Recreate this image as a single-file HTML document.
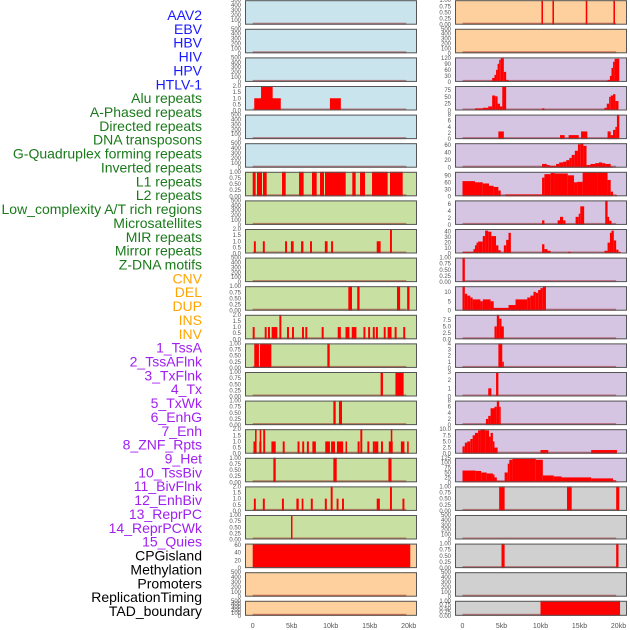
<!DOCTYPE html>
<html><head><meta charset="utf-8"><style>
body{margin:0;background:#fff;width:630px;height:630px;overflow:hidden}
svg{display:block;font-family:"Liberation Sans",sans-serif}
</style></head><body>
<svg id="c" width="630" height="630"></svg>
<script>
const trackNames=["AAV2","EBV","HBV","HIV","HPV","HTLV-1","Alu repeats","A-Phased repeats","Directed repeats","DNA transposons","G-Quadruplex forming repeats","Inverted repeats","L1 repeats","L2 repeats","Low_complexity A/T rich regions","Microsatellites","MIR repeats","Mirror repeats","Z-DNA motifs","CNV","DEL","DUP","INS","INV","1_TssA","2_TssAFlnk","3_TxFlnk","4_Tx","5_TxWk","6_EnhG","7_Enh","8_ZNF_Rpts","9_Het","10_TssBiv","11_BivFlnk","12_EnhBiv","13_ReprPC","14_ReprPCWk","15_Quies","CPGisland","Methylation","Promoters","ReplicationTiming","TAD_boundary"];
const trackColors=["#1a1aff","#1a1aff","#1a1aff","#1a1aff","#1a1aff","#1a1aff","#1a7a1a","#1a7a1a","#1a7a1a","#1a7a1a","#1a7a1a","#1a7a1a","#1a7a1a","#1a7a1a","#1a7a1a","#1a7a1a","#1a7a1a","#1a7a1a","#1a7a1a","#ffa500","#ffa500","#ffa500","#ffa500","#ffa500","#a020f0","#a020f0","#a020f0","#a020f0","#a020f0","#a020f0","#a020f0","#a020f0","#a020f0","#a020f0","#a020f0","#a020f0","#a020f0","#a020f0","#a020f0","#000","#000","#000","#000","#000"];
const xTicks=[0,5,10,15,20];
const xTickLabels=["0","5kb","10kb","15kb","20kb"];
const T500=[0,100,200,300,400,500],T1=[0,0.25,0.5,0.75,1],T2=[0,0.5,1,1.5,2];
const L4=[[0.2,3.6,1],[1.07,2.56,2],[9.9,11.3,1]];
const L7=[[0,0.38,1],[0.55,1.19,1],[1.32,1.79,1],[3.76,4.23,1],[5.94,6.53,1],[7.6,8.2,1],[8.63,9.14,1],[9.27,11.92,1],[12.77,13.2,1],[13.76,14.4,1],[15.3,17.3,1],[17.6,19.23,1]];
const L9=[[0.15,0.4,1],[1.3,1.55,1],[4.15,4.4,1],[4.9,5.25,1],[6.2,6.5,1],[7.35,7.6,1],[9.25,9.6,1],[10.05,10.3,1],[15.9,16.4,1],[17.6,17.85,2]];
const L11=[[12.26,12.73,1],[13.4,13.7,1],[18.5,18.9,1],[19.8,20.1,1]];
const L12=[[0,0.25,1],[1.54,1.79,1],[1.96,2.21,1],[2.43,3.16,1],[3.42,3.67,2],[4.4,4.65,1],[5.04,5.29,1],[6.32,6.57,1],[6.75,7.0,1],[8.84,9.1,1],[10.9,11.3,1],[11.9,12.4,1],[12.7,13.3,1],[14.2,14.45,1],[14.8,15.05,1],[15.4,15.65,1],[15.8,16.05,1],[16.8,17.05,1],[17.3,17.8,1],[18.2,18.45,1],[19.3,19.55,1]];
const L13=[[0.2,0.8,1],[0.93,2.39,1],[9.57,9.87,1]];
const L14=[[16.4,16.7,1],[18.3,19.35,1]];
const L15=[[10.34,10.64,1],[11.06,11.45,1]];
const L16=[[0.1,0.4,1],[0.3,0.5,2],[0.85,1.1,1],[0.9,1.1,2],[1.35,1.6,2],[2.4,2.95,1],[3.85,4.1,1],[5.75,6.0,1],[6.35,6.6,1],[6.95,7.2,1],[7.65,8.1,1],[9.3,9.9,1],[10.05,10.55,1],[10.8,11.6,1],[11.9,12.1,1],[13.45,13.7,1],[13.8,14.05,2],[14.7,14.95,1],[15.4,15.6,1],[15.6,16.1,1],[16.45,16.7,1],[17.45,17.95,1],[17.7,17.9,2],[19.0,19.45,1],[19.8,20.0,1]];
const L17=[[2.65,2.95,1],[10.34,10.77,1],[17.4,17.8,1]];
const L18=[[0.15,0.4,1],[1.3,1.55,1],[3.75,4.0,1],[5.6,5.9,1],[6.28,6.5,1],[7.45,7.7,1],[9.25,9.5,1],[10.0,10.25,2],[10.76,11.0,1],[11.45,11.7,1],[15.9,16.3,1],[17.6,17.85,2],[19.2,19.45,1]];
const L19=[[4.91,5.1,1]];
const L20=[[0,20.2,62]];
const R1=[[10.12,10.32,1],[11.53,11.73,1],[15.8,16.0,1],[19.35,19.55,1]];
const R3=[[3.4,3.8,5],[3.8,4.1,20],[4.1,4.3,35],[4.3,4.5,60],[4.5,4.7,90],[4.7,4.9,110],[4.9,5.3,120],[5.3,5.6,50],[5.6,5.9,10],[11.7,12.5,4],[18.3,18.6,3],[18.6,18.9,10],[18.9,19.1,30],[19.1,19.3,70],[19.3,19.5,100],[19.5,20.1,115]];
const R4=[[1.6,2.6,8],[2.6,3.3,10],[3.3,3.8,15],[3.8,4.2,55],[4.2,4.5,52],[4.5,4.8,25],[4.8,5.1,15],[5.1,5.6,88],[10.2,10.5,8],[18.2,18.5,10],[18.5,18.8,25],[18.8,19.0,50],[19.0,19.3,55],[19.3,19.6,60],[19.6,20.0,35]];
const R5=[[4.6,5.3,2.5],[12.5,13.1,1.3],[13.6,14.9,1.3],[15.2,16.0,2.5],[18.6,19.0,2.5],[19.0,19.3,1.3],[19.3,19.6,3],[19.6,19.8,4],[19.8,20.1,8]];
const R6=[[10.2,10.8,10],[10.8,11.2,7],[11.2,12.0,5],[12.0,12.4,10],[12.4,12.9,14],[12.9,13.3,16],[13.3,13.7,20],[13.7,14.0,26],[14.0,14.4,34],[14.4,14.8,45],[14.8,15.1,62],[15.1,15.5,65],[15.5,15.9,58],[15.9,16.4,7],[16.4,17.0,10],[17.0,17.5,12],[17.5,17.9,14],[17.9,18.3,12],[18.3,19.0,10],[19.0,19.3,3]];
const R7=[[0,1.6,65],[1.6,2.6,60],[2.6,3.4,55],[3.4,4.0,45],[4.0,4.6,40],[4.6,4.9,25],[5.5,10.2,8],[10.2,10.5,80],[10.5,11.3,95],[11.3,11.8,100],[11.8,13.5,98],[13.5,14.3,90],[14.3,14.7,60],[14.7,15.4,62],[15.4,17.3,104],[17.3,18.6,103],[18.6,19.0,70],[19.0,19.3,20],[19.6,19.8,6]];
const R8=[[10.2,10.5,1.3],[12.2,12.5,1.3],[12.5,12.9,2.3],[12.9,13.2,1.3],[14.5,14.9,2.3],[14.9,15.1,3.2],[15.1,15.6,5.3],[18.3,18.6,7],[18.6,18.8,2.3],[18.8,19.1,1.2]];
const R9=[[0,1.4,3],[1.4,1.6,8],[1.6,1.8,15],[1.8,2.0,20],[2.0,2.6,22],[2.6,2.9,32],[2.9,3.3,42],[3.3,3.7,40],[3.7,4.3,32],[4.3,4.6,15],[4.6,4.9,6],[5.3,5.6,15],[5.6,5.9,25],[5.9,6.2,38],[10.2,10.5,17],[10.5,10.9,8],[10.9,11.3,5],[13.5,13.9,3],[18.2,18.6,5],[18.6,18.9,20],[18.9,19.1,38],[19.1,19.4,42],[19.4,19.7,24],[19.7,20.0,7],[20.0,20.3,3]];
const R10=[[0,0.3,1]];
const R11=[[0,0.3,13],[0.3,0.6,9],[0.6,1.0,8],[1.0,1.3,7],[1.3,2.3,6],[2.3,2.6,5],[2.6,3.6,6],[3.6,4.0,5],[4.0,5.9,1.5],[5.9,6.8,3],[6.8,8.3,6],[8.3,8.7,7],[8.7,9.1,8],[9.1,9.4,10],[9.4,9.7,9.5],[9.7,10.0,11],[10.0,10.3,12],[10.3,10.7,13]];
const R12=[[4.1,4.4,5],[4.4,4.7,9.5],[4.7,5.0,8],[5.0,5.3,5]];
const R13=[[4.6,5.1,4],[5.1,5.3,1]];
const R14=[[3.3,3.7,1],[4.3,4.6,3]];
const R15=[[3.0,3.3,2],[3.3,3.6,3],[3.6,4.1,5.5],[4.1,4.4,6],[4.4,4.7,8],[4.7,4.9,6]];
const R16=[[0,0.3,3],[0.3,0.6,4.5],[0.6,1.0,5],[1.0,1.3,6],[1.3,1.6,7.5],[1.6,2.0,8.5],[2.0,2.3,9.5],[2.3,2.9,10],[2.9,3.4,9.5],[3.4,3.6,7],[3.6,3.9,8.5],[3.9,4.1,5],[4.1,4.5,2.5],[10.0,11.0,1.5],[16.5,19.8,1.5]];
const R17=[[0,1.7,60],[1.7,2.4,58],[2.4,3.1,50],[3.1,3.9,45],[3.9,4.1,40],[4.1,4.4,25],[4.4,4.8,8],[4.8,5.4,7],[5.4,5.8,50],[5.8,6.0,95],[6.0,6.4,115],[6.4,9.4,120],[9.4,10.3,115],[10.3,11.7,35],[11.7,12.7,30],[12.7,16.5,25],[16.5,19.3,20],[19.3,19.7,10],[19.7,20.0,3]];
const R18=[[4.7,5.4,1],[13.4,14.0,1],[19.7,20.1,1]];
const R20=[[5.0,5.4,1],[19.7,20.0,1]];
const R22=[[10.0,20.2,1]];

const BLUE="#c9e4ec",GREEN="#c8e0a2",ORANGE="#fed09e",PURPLE="#d5c5e2",GRAY="#d0d0d0";
const leftPanels=[
[500,T500,[],BLUE],[500,T500,[],BLUE],[500,T500,[],BLUE],[2,T2,L4,BLUE],[500,T500,[],BLUE],[500,T500,[],BLUE],
[1,T1,L7,GREEN],[500,T500,[],GREEN],[2,T2,L9,GREEN],[500,T500,[],GREEN],[1,T1,L11,GREEN],[2,T2,L12,GREEN],[1,T1,L13,GREEN],[1,T1,L14,GREEN],[1,T1,L15,GREEN],[2,T2,L16,GREEN],[1,T1,L17,GREEN],[2,T2,L18,GREEN],[1,T1,L19,GREEN],
[63,[0,20,40,60],L20,ORANGE],[500,T500,[],ORANGE],[500,T500,[],ORANGE]];
const rightPanels=[
[1,T1,R1,ORANGE],[500,T500,[],ORANGE],
[122,[0,30,60,90,120],R3,PURPLE],[90,[0,25,50,75],R4,PURPLE],[8,[0,2,4,6,8],R5,PURPLE],[65,[0,20,40,60],R6,PURPLE],[105,[0,30,60,90],R7,PURPLE],[7,[0,2,4,6],R8,PURPLE],[45,[0,10,20,30,40],R9,PURPLE],[1,T1,R10,PURPLE],[13,[0,5,10],R11,PURPLE],[9.5,[0,2.5,5,7.5],R12,PURPLE],[4,[0,1,2,3,4],R13,PURPLE],[3,[0,1,2,3],R14,PURPLE],[8,[0,2,4,6,8],R15,PURPLE],[10,[0,2.5,5,7.5,10],R16,PURPLE],[125,[0,25,50,75,100,125],R17,PURPLE],
[1,T1,R18,GRAY],[500,T500,[],GRAY],[1,T1,R20,GRAY],[500,T500,[],GRAY],[1,T1,R22,GRAY]];

const NS="http://www.w3.org/2000/svg";
const svg=document.getElementById("c");
function mk(tag,attrs,parent){const e=document.createElementNS(NS,tag);for(const k in attrs)e.setAttribute(k,attrs[k]);(parent||svg).appendChild(e);return e;}

trackNames.forEach((n,i)=>{
  const t=mk("text",{x:202,y:20+13.86*i,"text-anchor":"end","font-size":"14",fill:trackColors[i]});
  t.textContent=n;
  
  
});

function fmt(v,ticks){
  const frac=ticks.some(t=>t%1!==0);
  if(!frac) return String(v);
  const dec=ticks.some(t=>Math.round(t*100)%10!==0)?2:1;
  return v.toFixed(dec);
}
function drawPanel(col,row,p){
  const [ymax,ticks,segs,bg]=p;
  const top=0.2+28.6*row, h=row===21?15:24.5;
  const x0=col?455:245, w=172, kb0=col?462.5:252.7, pxPerKb=7.8;
  const xs=kb=>kb0+kb*pxPerKb;
  const ys=v=>top+h-Math.min(v,ymax)/ymax*h;
  const g=mk("g",{});
  
  
  mk("rect",{x:x0,y:top,width:w,height:h,fill:bg},g);
  mk("rect",{x:xs(0),y:top+h-2,width:19.7*pxPerKb,height:2,fill:"rgba(150,0,0,0.45)"},g);
  segs.forEach(s=>{
    const r=mk("rect",{x:xs(s[0]),y:ys(s[2]),width:Math.max(1.2,xs(s[1])-xs(s[0])),height:top+h-ys(s[2]),fill:"#ff0000"},g);
    
    
  });
  mk("rect",{x:x0+0.5,y:top+0.5,width:w-1,height:h-1,fill:"none",stroke:"#555","stroke-width":1},g);
  ticks.forEach(t=>{
    const tx=mk("text",{x:x0-4,y:ys(t)+2,"text-anchor":"end","font-size":"6",fill:"#555"},g);
    tx.textContent=fmt(t,ticks);
    
    
  });
}
leftPanels.forEach((p,i)=>drawPanel(0,i,p));
rightPanels.forEach((p,i)=>drawPanel(1,i,p));
[252.7,462.5].forEach(kb0=>{
  xTicks.forEach((k,i)=>{
    const t=mk("text",{x:kb0+k*7.8,y:628,"text-anchor":"middle","font-size":"7",fill:"#555"});
    t.textContent=xTickLabels[i];
    
    
  });
});
</script>
</body></html>
